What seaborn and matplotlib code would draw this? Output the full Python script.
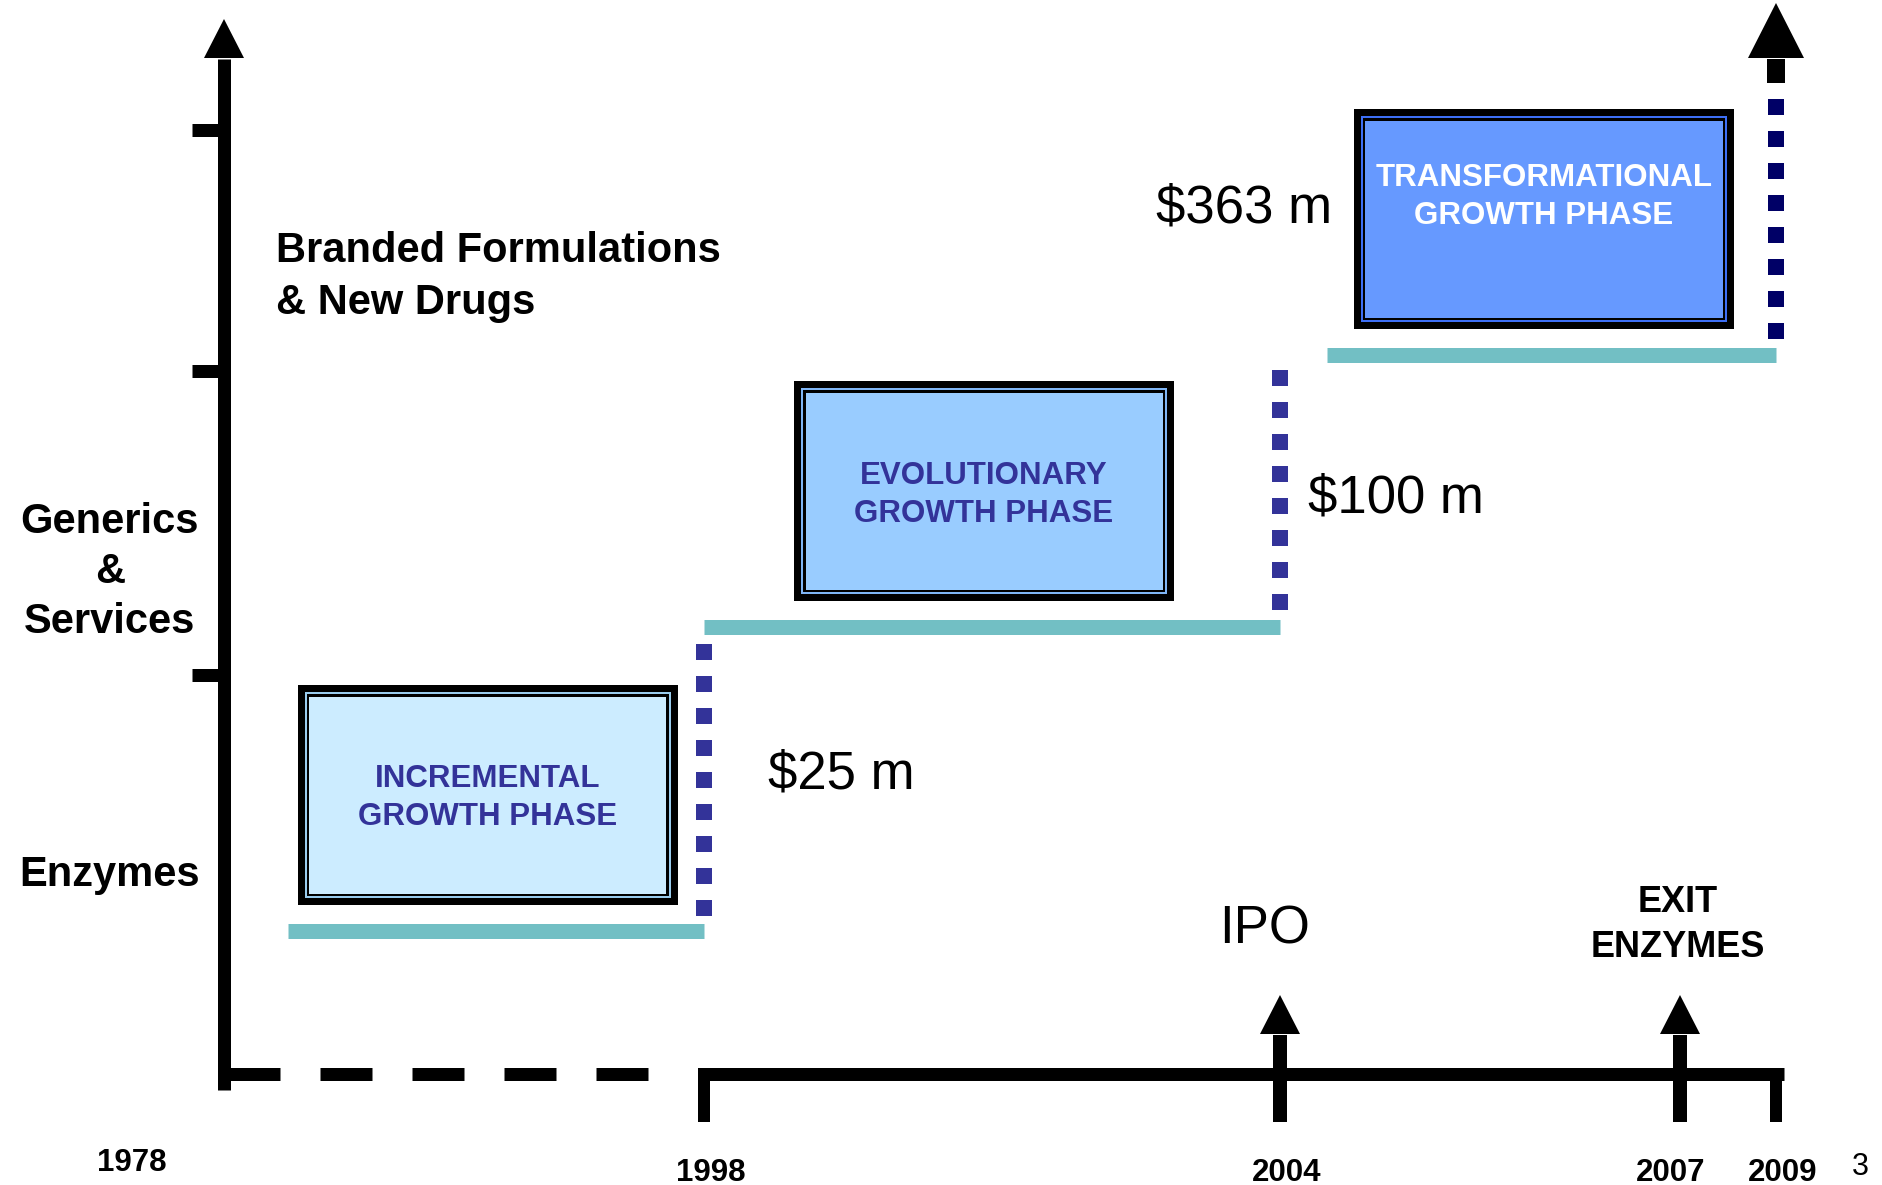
import numpy as np
import pandas as pd
import matplotlib
matplotlib.use("Agg")
import matplotlib.pyplot as plt
from matplotlib.patches import Polygon
import seaborn as sns

# ---------------- data ----------------
axis_years = [1978, 1998, 2004, 2007, 2009]
year_labels = ["1978", "1998", "2004", "2007", "2009"]
phase_names = ["INCREMENTAL\nGROWTH PHASE",
               "EVOLUTIONARY\nGROWTH PHASE",
               "TRANSFORMATIONAL\nGROWTH PHASE"]
phase_start = [1978, 1998, 2004]
phase_end = [1998, 2004, 2009]
revenue_musd = [25, 100, 363]
revenue_labels = [f"${v} m" for v in revenue_musd]
segments = ["Enzymes", "Generics\n&\nServices", "Branded Formulations\n& New Drugs"]
events = ["IPO", "EXIT\nENZYMES"]
event_years = [2004, 2007]
page_number = "3"

# ---------------- styling / layout ----------------
sns.set_theme(style="white")
plt.rcParams["font.family"] = ["Liberation Sans", "DejaVu Sans"]

DPI = 100
W, H = 1882, 1185

# schematic (piecewise) time axis: years -> canvas pixels
KNOT_YEARS = [1978 - 224 / 24.0, 1978, 1998, 2004, 2007, 2009, 2009 + 106 / 48.0]
KNOT_PX = [0, 224, 704, 1280, 1680, 1776, 1882]


def fwd(y):
    return np.interp(y, KNOT_YEARS, KNOT_PX)


def inv(p):
    return np.interp(p, KNOT_PX, KNOT_YEARS)


def at(year, dpx=0.0):
    """year shifted by a number of canvas pixels"""
    return float(inv(fwd(year) + dpx))


def pts(px):
    return px * 72.0 / DPI


LEVEL_Y = [931, 627, 355]                    # vertical position of each phase step
TEAL = "#72BFC4"
RISER_COLORS = ["#333399", "#333399", "#000066"]
BOX_FILL = ["#CCECFF", "#99CCFF", "#6699FF"]
BOX_LINE = ["#99CCEE", "#7FB5F5", "#3D6FF5"]
BOX_TEXT = ["#333399", "#333399", "white"]

fig = plt.figure(figsize=(W / DPI, H / DPI), dpi=DPI)
ax = fig.add_axes([0, 0, 1, 1])
ax.set_xscale("function", functions=(fwd, inv))
ax.set_xlim(KNOT_YEARS[0], KNOT_YEARS[-1])
ax.set_ylim(H, 0)
ax.axis("off")


def up_arrow(year, y_from, y_base, y_tip, shaft_px, half_px):
    ax.plot([year, year], [y_from, y_base + 1], color="black", lw=pts(shaft_px),
            solid_capstyle="butt", zorder=3)
    ax.add_patch(Polygon([(at(year, -half_px), y_base), (year, y_tip),
                          (at(year, half_px), y_base)],
                         closed=True, facecolor="black", edgecolor="none", zorder=3))


# ---- vertical (business segment) axis ----
up_arrow(axis_years[0], 1090, 58, 19, 13, 20)
for yb in [130, 371, 675]:
    ax.plot([at(axis_years[0], -32), axis_years[0]], [yb, yb], color="black",
            lw=pts(13), solid_capstyle="butt")

# ---- horizontal (time) axis ----
ax.plot([at(1978, 4), at(1998, -54)], [1074, 1074], color="black", lw=pts(13),
        linestyle=(0, (52 / 13, 40 / 13)), dash_capstyle="butt")
ax.plot([at(1998, -5), at(2009, 8)], [1074, 1074], color="black", lw=pts(13),
        solid_capstyle="butt")
for yr in [1998, 2009]:
    ax.plot([yr, yr], [1068, 1122], color="black", lw=pts(12), solid_capstyle="butt")
for yr in event_years:
    up_arrow(yr, 1122, 1034, 995, 14, 20)

# year labels under the axis
year_dx = [-92, 7, 7, -9, 7]
year_y = [1163, 1173, 1173, 1173, 1173]
for yr, lab, dx, yy in zip(axis_years, year_labels, year_dx, year_y):
    ax.text(at(yr, dx), yy, lab, ha="center", va="center", fontsize=22.5,
            fontweight="bold", color="black")
ax.text(at(2009, 84), 1167, page_number, ha="center", va="center", fontsize=22,
        color="black")

# ---- phase steps (teal) ----
start_off = [64, 0, 47]
rows = []
for i, (s, e) in enumerate(zip(phase_start, phase_end)):
    rows.append({"phase": phase_names[i], "year": at(s, start_off[i]), "y": LEVEL_Y[i]})
    rows.append({"phase": phase_names[i], "year": float(e), "y": LEVEL_Y[i]})
steps = pd.DataFrame(rows)
sns.lineplot(data=steps, x="year", y="y", units="phase", estimator=None,
             color=TEAL, lw=pts(15), solid_capstyle="butt", ax=ax, legend=False)

# ---- dotted risers between phases ----
riser_top = [644, 370, 99]
riser_bot = [916, 610, 339]
for i, yr in enumerate(phase_end):
    ax.plot([yr, yr], [riser_top[i], riser_bot[i]], color=RISER_COLORS[i],
            lw=pts(16), linestyle=(0, (1, 1)), dash_capstyle="butt", zorder=2)
up_arrow(phase_end[-1], 83, 58, 3, 18, 28)

# ---- revenue labels ----
ax.text(at(phase_end[0], 64), 774, revenue_labels[0], ha="left", va="center",
        fontsize=38, color="black")
ax.text(at(phase_end[1], 28), 498, revenue_labels[1], ha="left", va="center",
        fontsize=38, color="black")
ax.text(at(phase_start[2], 52), 209, revenue_labels[2], ha="right", va="center",
        fontsize=38, color="black")

# ---- phase boxes ----
box_left = [74, 90, 74]          # pixel offset from the phase start
box_top = [685, 381, 109]
box_text_y = [798, 495, 197]
BW, BH = 380, 220


def filled_rect(year, x0, y0, x1, y1, color, z):
    ax.add_patch(Polygon([(at(year, x0), y0), (at(year, x1), y0),
                          (at(year, x1), y1), (at(year, x0), y1)],
                         closed=True, facecolor=color, edgecolor="none", zorder=z))


for i in range(3):
    s = phase_start[i]
    x0, y0 = box_left[i], box_top[i]
    layers = [(0, "black"), (7, BOX_LINE[i]), (9, "black"), (11.5, BOX_FILL[i])]
    for k, (d, c) in enumerate(layers):
        filled_rect(s, x0 + d, y0 + d, x0 + BW - d, y0 + BH - d, c, 4 + k)
    ax.text(at(s, x0 + BW / 2), box_text_y[i], phase_names[i], ha="center",
            va="center", fontsize=22.5, fontweight="bold", color=BOX_TEXT[i],
            linespacing=1.35, zorder=10)

# ---- business segment labels ----
ax.text(at(1978, -114), 875, segments[0], ha="center", va="center", fontsize=30,
        fontweight="bold", color="black")
ax.text(at(1978, -114), 572, segments[1], ha="center", va="center", fontsize=30,
        fontweight="bold", color="black", linespacing=1.32)
ax.text(at(1978, 52), 277, segments[2], ha="left", va="center", fontsize=30,
        fontweight="bold", color="black", linespacing=1.36, multialignment="left")

# ---- milestone labels ----
ax.text(at(event_years[0], -15), 930, events[0], ha="center", va="center",
        fontsize=38, color="black")
ax.text(at(event_years[1], -2), 925, events[1], ha="center", va="center",
        fontsize=26, fontweight="bold", color="black", linespacing=1.34)

fig.savefig("out.png", dpi=DPI, facecolor="white")
